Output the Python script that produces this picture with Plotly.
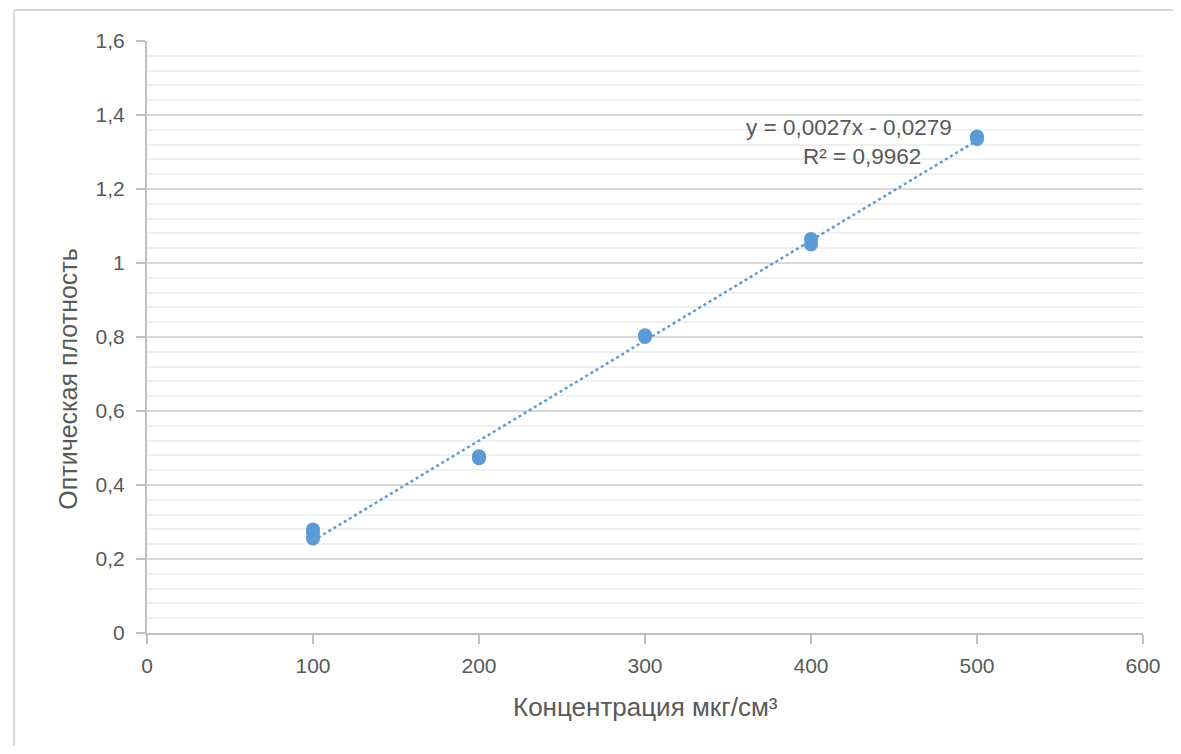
import numpy as np
import plotly.graph_objects as go

# ---- data ----
conc = [100, 100, 100, 200, 200, 300, 300, 400, 400, 500, 500]
od = [0.28, 0.27, 0.255, 0.472, 0.478, 0.800, 0.805, 1.065, 1.050, 1.335, 1.342]

x_ticks = [0, 100, 200, 300, 400, 500, 600]
x_ticktext = ["0", "100", "200", "300", "400", "500", "600"]
y_ticks = [0, 0.2, 0.4, 0.6, 0.8, 1.0, 1.2, 1.4, 1.6]
y_ticktext = ["0", "0,2", "0,4", "0,6", "0,8", "1", "1,2", "1,4", "1,6"]

eq_text = "y = 0,0027x - 0,0279"
r2_text = "R² = 0,9962"
x_title = "Концентрация мкг/см³"
y_title = "Оптическая плотность"

BLUE = "#5B9BD5"
TXT = "#595959"
FONT = "Liberation Sans"

# linear trend fitted to the points
slope, intercept = np.polyfit(conc, od, 1)
tx = np.array([min(conc), max(conc)])
ty = slope * tx + intercept

fig = go.Figure()
fig.add_trace(go.Scatter(x=tx, y=ty, mode="lines",
                         line=dict(color=BLUE, width=2.5, dash="dot"),
                         hoverinfo="skip", showlegend=False))
fig.add_trace(go.Scatter(x=conc, y=od, mode="markers",
                         marker=dict(color=BLUE, size=14),
                         showlegend=False))

fig.update_layout(
    width=1165, height=738,
    margin=dict(l=139, r=30, t=33, b=113),
    paper_bgcolor="white", plot_bgcolor="white",
    font=dict(family=FONT, color=TXT, size=21),
    separators=", ",
    showlegend=False,
)
fig.update_xaxes(range=[0, 600], tickvals=x_ticks, ticktext=x_ticktext,
                 showgrid=False, zeroline=False,
                 showline=True, linecolor="#bfbfbf", linewidth=2,
                 ticks="outside", ticklen=9, tickwidth=2, tickcolor="#bfbfbf",
                 ticklabelstandoff=4,
                 tickfont=dict(size=21, color=TXT, family=FONT))
fig.update_yaxes(range=[0, 1.6], tickvals=y_ticks, ticktext=y_ticktext,
                 showgrid=True, gridcolor="#d9d9d9", gridwidth=2, zeroline=False,
                 showline=True, linecolor="#bfbfbf", linewidth=2,
                 ticks="outside", ticklen=9, tickwidth=2, tickcolor="#bfbfbf",
                 ticklabelstandoff=7,
                 tickfont=dict(size=21, color=TXT, family=FONT),
                 minor=dict(dtick=0.04, showgrid=True, gridcolor="#f0f0f0", gridwidth=2, ticks=""))

# chart-area frame (cropped on the right and bottom in the reference)
fig.add_shape(type="line", xref="paper", yref="paper",
              x0=-0.1335, x1=1.2, y0=1.0524, y1=1.0524,
              line=dict(color="#d9d9d9", width=2), layer="below")
fig.add_shape(type="line", xref="paper", yref="paper",
              x0=-0.1335, x1=-0.1335, y0=-0.4, y1=1.0524,
              line=dict(color="#d9d9d9", width=2), layer="below")

fig.add_annotation(x=0.5, y=-0.125, xref="paper", yref="paper", text=x_title,
                   showarrow=False, font=dict(size=26, color=TXT, family=FONT),
                   xanchor="center", yanchor="middle")
fig.add_annotation(x=-0.079, y=0.43, xref="paper", yref="paper", text=y_title,
                   textangle=-90, showarrow=False,
                   font=dict(size=25, color=TXT, family=FONT),
                   xanchor="center", yanchor="middle")
fig.add_annotation(x=423, y=1.365, text=eq_text, showarrow=False,
                   font=dict(size=22.5, color=TXT, family=FONT),
                   xanchor="center", yanchor="middle")
fig.add_annotation(x=431, y=1.289, text=r2_text, showarrow=False,
                   font=dict(size=22.5, color=TXT, family=FONT),
                   xanchor="center", yanchor="middle")

fig.write_html("out.html")
